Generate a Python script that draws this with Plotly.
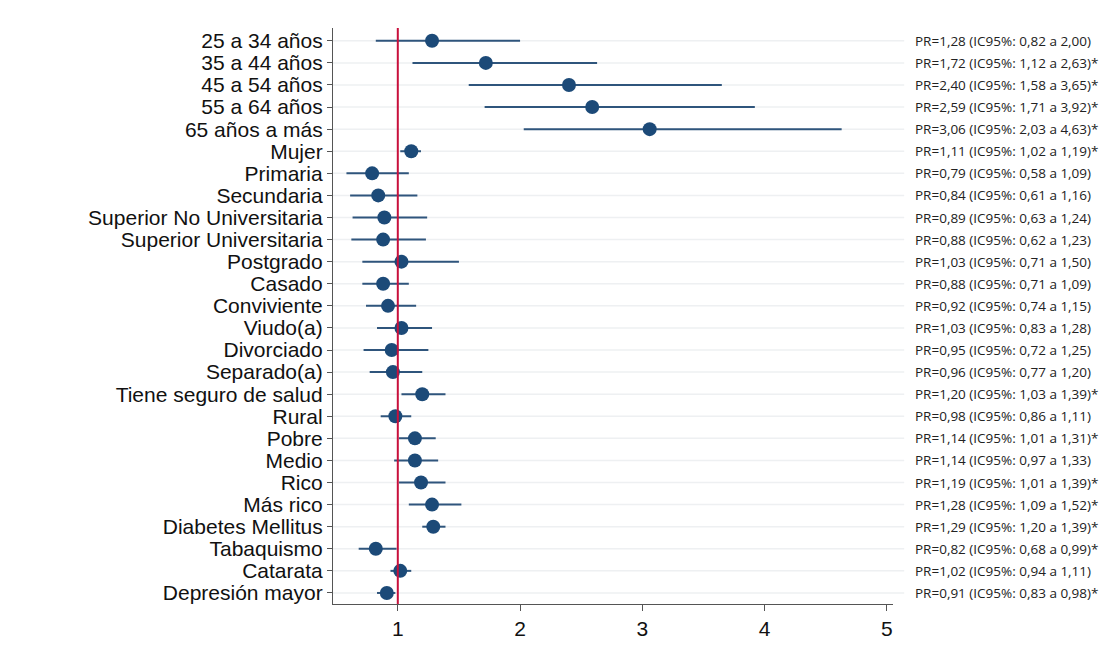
import plotly.graph_objects as go

categories = ["25 a 34 años", "35 a 44 años", "45 a 54 años", "55 a 64 años", "65 años a más",
              "Mujer", "Primaria", "Secundaria", "Superior No Universitaria", "Superior Universitaria",
              "Postgrado", "Casado", "Conviviente", "Viudo(a)", "Divorciado", "Separado(a)",
              "Tiene seguro de salud", "Rural", "Pobre", "Medio", "Rico", "Más rico",
              "Diabetes Mellitus", "Tabaquismo", "Catarata", "Depresión mayor"]
pr = [1.28, 1.72, 2.40, 2.59, 3.06, 1.11, 0.79, 0.84, 0.89, 0.88, 1.03, 0.88, 0.92, 1.03,
      0.95, 0.96, 1.20, 0.98, 1.14, 1.14, 1.19, 1.28, 1.29, 0.82, 1.02, 0.91]
lo = [0.82, 1.12, 1.58, 1.71, 2.03, 1.02, 0.58, 0.61, 0.63, 0.62, 0.71, 0.71, 0.74, 0.83,
      0.72, 0.77, 1.03, 0.86, 1.01, 0.97, 1.01, 1.09, 1.20, 0.68, 0.94, 0.83]
hi = [2.00, 2.63, 3.65, 3.92, 4.63, 1.19, 1.09, 1.16, 1.24, 1.23, 1.50, 1.09, 1.15, 1.28,
      1.25, 1.20, 1.39, 1.11, 1.31, 1.33, 1.39, 1.52, 1.39, 0.99, 1.11, 0.98]
sig = [False, True, True, True, True, True, False, False, False, False, False, False, False, False,
       False, False, True, False, True, False, True, True, True, True, False, True]

n = len(categories)
ypos = list(range(n))

fig = go.Figure()

# CI lines
xs, ys = [], []
for i in range(n):
    xs += [lo[i], hi[i], None]
    ys += [ypos[i], ypos[i], None]
fig.add_trace(go.Scatter(x=xs, y=ys, mode="lines",
                         line=dict(color="#2f557c", width=2), hoverinfo="skip", showlegend=False))
fig.add_trace(go.Scatter(x=pr, y=ypos, mode="markers",
                         marker=dict(color="#1c4a78", size=14), showlegend=False))

# reference line at 1
fig.add_shape(type="line", xref="x", yref="paper", x0=1, x1=1, y0=0, y1=1,
              line=dict(color="#c8103c", width=2), layer="above")

# gridlines
for i in range(n):
    fig.add_shape(type="line", xref="paper", yref="y", x0=0, x1=1.02, y0=ypos[i], y1=ypos[i],
                  line=dict(color="#eef0f2", width=1.5), layer="below")

def fmt(v):
    return f"{v:.2f}".replace(".", ",")

for i in range(n):
    t = f"PR={fmt(pr[i])} (IC95%: {fmt(lo[i])} a {fmt(hi[i])})" + ("*" if sig[i] else "")
    fig.add_annotation(x=1.036, xref="paper", y=ypos[i], yref="y", text=t, showarrow=False,
                       xanchor="left", yanchor="middle",
                       font=dict(family="Open Sans", size=13.5, color="#222222"))

fig.update_layout(
    width=1114, height=665,
    margin=dict(l=325, r=229, t=20, b=69),
    paper_bgcolor="white", plot_bgcolor="white",
    font=dict(family="Liberation Sans, Arial", color="#111111"),
    xaxis=dict(range=[0.47, 5.05], tickvals=[1, 2, 3, 4, 5], showgrid=False, zeroline=False,
               showline=True, linecolor="#555555", linewidth=1.2,
               ticks="outside", ticklen=6, tickcolor="#555555", tickfont=dict(size=21)),
    yaxis=dict(range=[n - 1 + 0.5, -0.58], tickvals=ypos, ticktext=categories,
               showgrid=False, zeroline=False, showline=True, linecolor="#555555", linewidth=1.2,
               ticks="outside", ticklen=5, tickcolor="#555555", tickfont=dict(size=21)),
)

fig.write_html("out.html")
